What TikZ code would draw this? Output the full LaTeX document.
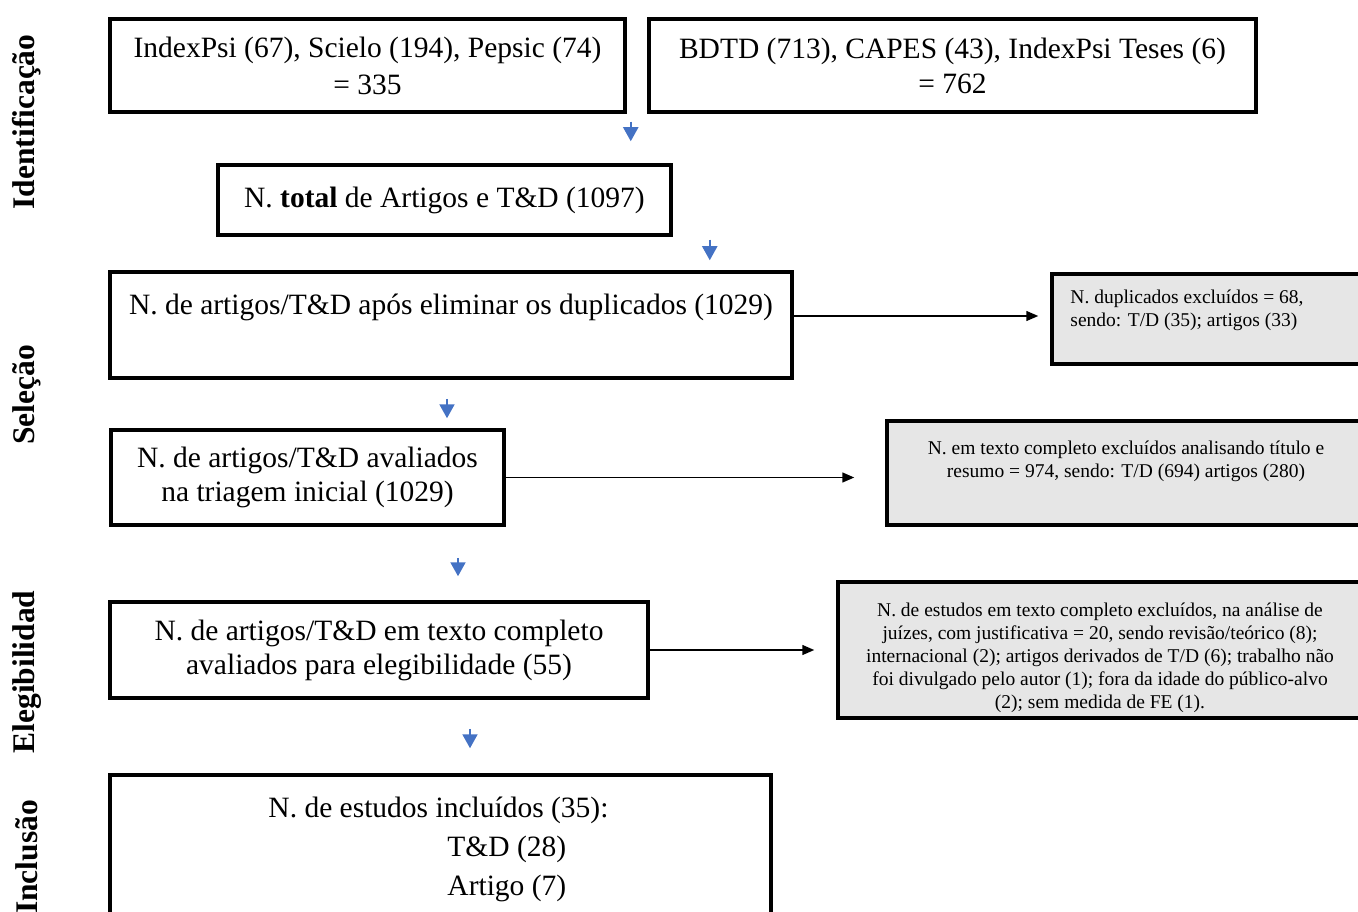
\documentclass[tikz,border=0pt]{standalone}
\usepackage{fontspec}
\setmainfont{Liberation Serif}
\usetikzlibrary{arrows.meta,positioning,calc}
\definecolor{arrowblue}{RGB}{68,114,196}
\definecolor{softgray}{RGB}{230,230,230}
\begin{document}
\begin{tikzpicture}[x=1pt,y=-1pt, every node/.style={align=center,inner sep=0pt},
    box/.style={draw=black,line width=3.5pt,fill=white,font=\fontsize{29.5}{36}\selectfont},
    graybox/.style={draw=black,line width=3.5pt,fill=softgray},
    smalltext/.style={font=\fontsize{19.5}{23}\selectfont},
    bigtext/.style={font=\fontsize{29.5}{39}\selectfont},
    phase/.style={rotate=90,font=\fontsize{31.5}{31.5}\selectfont\bfseries},
    flow/.style={-{Triangle[length=14pt,width=15pt]},line width=2pt,draw=arrowblue},
    excl/.style={-{Triangle[length=12pt,width=10pt]},line width=1.5pt}]
    \useasboundingbox (0,0) rectangle (1358,912);
    \clip (0,0) rectangle (1358,912);
    % fases
    \node[phase] (ident) at (27,122) {Identificação};
    \node[phase] (selec) at (27,395) {Seleção};
    \node[phase] (elegi) at (27,672) {Elegibilidad};
    \node[phase] (inclu) at (27,857) {Inclusão};
    % identificacao
    \node[box,font=\fontsize{29.5}{37}\selectfont,minimum width=515pt,minimum height=93pt] (bases) at (367.5,65.5) {IndexPsi (67), Scielo (194), Pepsic (74)\\= 335};
    \node[box,font=\fontsize{29.5}{35}\selectfont,minimum width=607pt,minimum height=93pt] (teses) at (952.5,65.5) {BDTD (713), CAPES (43), IndexPsi Teses (6)\\= 762};
    \node[box,minimum width=453pt,minimum height=70pt] (total) at (444.5,200) {N. \textbf{total} de Artigos e T\&D (1097)};
    % selecao
    \node[box,minimum width=682pt,minimum height=106pt] (dupl) at (451,325) {};
    \node[bigtext,anchor=north] (duplt) at ([shift={(0,24)}]dupl.north) {N. de artigos/T\&D após eliminar os duplicados (1029)};
    \node[graybox,minimum width=318pt,minimum height=90pt] (dup) at (1211,319) {};
    \node[smalltext,anchor=north west,align=left] (dupt) at ([shift={(20,17)}]dup.north west) {N. duplicados excluídos = 68,\\sendo: T/D (35); artigos (33)};
    \node[box,font=\fontsize{29.5}{34}\selectfont,minimum width=393pt,minimum height=95pt] (triag) at (307.5,477.5) {N. de artigos/T\&D avaliados\\na triagem inicial (1029)};
    \node[graybox,minimum width=478pt,minimum height=104pt] (tri) at (1126,473) {};
    \node[smalltext,anchor=north] (trit) at ([shift={(0,21)}]tri.north) {N. em texto completo excluídos analisando título e\\resumo = 974, sendo: T/D (694) artigos (280)};
    % elegibilidade
    \node[box,font=\fontsize{29.5}{34}\selectfont,minimum width=538pt,minimum height=96pt] (eleg) at (379,650) {N. de artigos/T\&D em texto completo\\avaliados para elegibilidade (55)};
    \node[graybox,minimum width=524pt,minimum height=136pt] (ele) at (1100,650) {};
    \node[smalltext] (elet) at ([shift={(0,8)}]ele.center) {N. de estudos em texto completo excluídos, na análise de\\juízes, com justificativa = 20, sendo revisão/teórico (8);\\internacional (2); artigos derivados de T/D (6); trabalho não\\foi divulgado pelo autor (1); fora da idade do público-alvo\\(2); sem medida de FE (1).};
    % inclusao
    \node[box,minimum width=661pt,minimum height=155pt] (incl) at (440.5,852.5) {};
    \node[bigtext,anchor=north west,align=left] (inclt) at ([shift={(160,24)}]incl.north west) {N. de estudos incluídos (35):\\\hspace*{179pt}T\&D (28)\\\hspace*{179pt}Artigo (7)};
    % setas
    \draw[flow] ([shift={(4,8)}]bases.south east) -- ([shift={(4,-22)}]bases.south east |- total.north);
    \draw[flow] ([shift={(37,3)}]total.south east) -- ([shift={(37,-10)}]total.south east |- dupl.north);
    \draw[flow] ([shift={(-4,19)}]dupl.south) -- ([shift={(-4,-10)}]dupl.south |- triag.north);
    \draw[flow] ([shift={(150.5,31)}]triag.south) -- ([shift={(150.5,-24)}]triag.south |- eleg.north);
    \draw[flow] ([shift={(91,29)}]eleg.south) -- ([shift={(91,-25)}]eleg.south |- incl.north);
    \draw[excl] ([shift={(0,-9)}]dupl.east) -- ($(dupl.east -| dup.west)+(-12,-9)$);
    \draw[excl] (triag.east) -- ($(triag.east -| tri.west)+(-31,0)$);
    \draw[excl] (eleg.east) -- ($(eleg.east -| ele.west)+(-22,0)$);
\end{tikzpicture}
\end{document}
